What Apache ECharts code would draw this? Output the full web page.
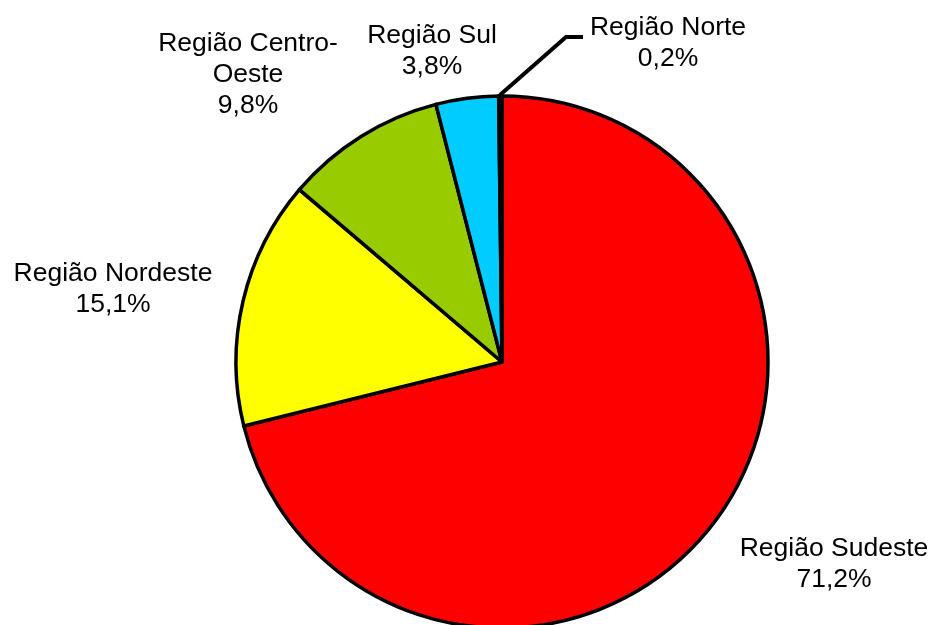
<!DOCTYPE html>
<html>
<head>
<meta charset="utf-8">
<script src="https://cdn.jsdelivr.net/npm/echarts@6/dist/echarts.min.js"></script>
<style>html,body{margin:0;padding:0;background:#fff}#c{width:934px;height:625px}</style>
</head>
<body>
<div id="c"></div>
<script>
const categories = ['Região Sudeste', 'Região Nordeste', 'Região Centro-Oeste', 'Região Sul', 'Região Norte'];
const values = [71.2, 15.1, 9.8, 3.8, 0.2];
const colors = ['#FF0000', '#FFFF00', '#99CC00', '#00CCFF', '#3366FF'];

// label placement (style only)
const labelPos = {
  'Região Sudeste': [834, 564],
  'Região Nordeste': [113, 289],
  'Região Centro-Oeste': [248, 75],
  'Região Sul': [432, 51],
  'Região Norte': [668, 43]
};

const chart = echarts.init(document.getElementById('c'));
chart.setOption({
  backgroundColor: '#ffffff',
  animation: false,
  series: [{
    type: 'pie',
    center: [502, 362],
    radius: 266,
    startAngle: 90,
    clockwise: true,
    avoidLabelOverlap: false,
    data: categories.map((n, i) => ({
      name: n,
      value: values[i],
      itemStyle: { color: colors[i] },
      labelLine: { show: n === 'Região Norte', lineStyle: { color: '#000', width: 4 } }
    })),
    itemStyle: { borderColor: '#000', borderWidth: 3.5 },
    label: {
      show: true,
      position: 'outside',
      color: '#000',
      fontFamily: 'Liberation Sans, Arial, sans-serif',
      fontSize: 26.5,
      lineHeight: 31,
      align: 'center',
      formatter: p => p.name.replace('Centro-', 'Centro-\n') + '\n' + p.value.toFixed(1).replace('.', ',') + '%'
    },
    labelLine: { show: false },
    labelLayout: function (params) {
      const name = categories[params.dataIndex];
      const pos = labelPos[name];
      const out = { x: pos[0], y: pos[1], align: 'center', verticalAlign: 'middle' };
      if (name === 'Região Norte') {
        out.labelLinePoints = [[500, 95], [566, 37], [583, 37]];
      }
      return out;
    }
  }]
});
</script>
</body>
</html>
